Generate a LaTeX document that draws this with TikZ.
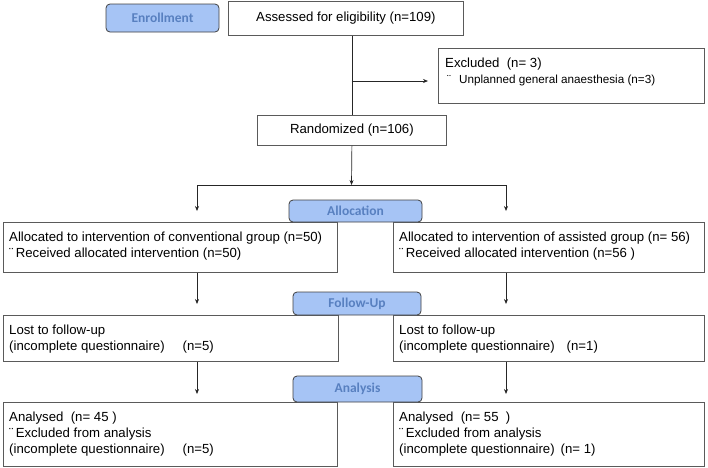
\documentclass[tikz,border=0pt]{standalone}
\usepackage{fontspec}
\setmainfont{Liberation Sans}
\newfontfamily\lblfont{Carlito}
\usetikzlibrary{arrows.meta,calc}
\definecolor{phasefill}{RGB}{166,196,245}
\definecolor{phasetext}{RGB}{88,128,192}
\definecolor{boxline}{RGB}{90,90,90}
\begin{document}
\begin{tikzpicture}[x=1pt,y=-1pt,
  box/.style={draw=boxline, line width=0.8pt, fill=white, anchor=north west, inner sep=0pt, font=\fontsize{13.2}{16.5}\selectfont},
  phase/.style={draw=black!75, line width=0.8pt, fill=phasefill, rounded corners=4pt, inner sep=0pt, font=\lblfont\bfseries\fontsize{13.5}{15}\selectfont, text=phasetext},
  txt/.style={anchor=north west, align=left, inner sep=0pt, font=\fontsize{13.2}{16.3}\selectfont},
  arr/.style={-{Stealth[length=5pt,width=4pt]}, line width=0.7pt, draw=black!85},
  conn/.style={line width=0.7pt, draw=black!85},
]
\useasboundingbox (0,0) rectangle (708,467);
% boxes
\node[box, minimum width=235, minimum height=34] (ass) at (228,1) {Assessed for eligibility (n=109)};
\node[box, minimum width=266, minimum height=55] (excl) at (438,48) {};
\node[box, minimum width=189, minimum height=30] (rand) at (257,115) {Randomized (n=106)};
\node[box, minimum width=334, minimum height=50] (allocL) at (3,222) {};
\node[box, minimum width=311, minimum height=50] (allocR) at (393,222) {};
\node[box, minimum width=335, minimum height=46] (lostL) at (3,315) {};
\node[box, minimum width=311, minimum height=46] (lostR) at (393,315) {};
\node[box, minimum width=334, minimum height=64] (anaL) at (3,402) {};
\node[box, minimum width=311, minimum height=64] (anaR) at (393,402) {};
% texts
\node[txt] (exclT) at ($(excl.north west)+(7,10)$) {Excluded~ (n= 3)\\[-1pt]{\fontsize{11.7}{14}\selectfont\kern2pt¨\hspace{8pt}Unplanned general anaesthesia (n=3)}};
\node[txt] (allocLT) at ($(allocL.north west)+(6,9.5)$) {Allocated to intervention of conventional group (n=50)\\¨\,Received allocated intervention (n=50)};
\node[txt] (allocRT) at ($(allocR.north west)+(6,9.5)$) {Allocated to intervention of assisted group (n= 56)\\¨\,Received allocated intervention (n=56 )};
\node[txt] (lostLT) at ($(lostL.north west)+(6,9.5)$) {Lost to follow-up\\(incomplete questionnaire)\hspace{18pt}(n=5)};
\node[txt] (lostRT) at ($(lostR.north west)+(6,9.5)$) {Lost to follow-up\\(incomplete questionnaire)\hspace{12pt}(n=1)};
\node[txt] (anaLT) at ($(anaL.north west)+(6,9.5)$) {Analysed~ (n= 45 )\\¨\,Excluded from analysis\\(incomplete questionnaire)\hspace{18pt}(n=5)};
\node[txt] (anaRT) at ($(anaR.north west)+(6,9.5)$) {Analysed~ (n= 55~ )\\¨\,Excluded from analysis\\(incomplete questionnaire)\hspace{6pt}(n= 1)};
% connectors
\coordinate (exy) at (351.5,81);
\coordinate (sp) at (351.5,185);
\coordinate (spl) at (197,185);
\coordinate (spr) at (506,185);
\draw[conn] (rand.north |- ass.south) -- (rand.north);
\draw[arr, shorten >=10pt] (exy) -- (exy -| excl.west);
\draw[arr] (rand.south) -- (sp);
\draw[conn] (spl) -- (spr);
\draw[arr, shorten >=11pt] (spl) -- (spl |- allocL.north);
\draw[arr, shorten >=11pt] (spr) -- (spr |- allocR.north);
\draw[arr, shorten >=11pt] (allocL.south -| spl) -- (lostL.north -| spl);
\draw[arr, shorten >=11pt] (allocR.south -| spr) -- (lostR.north -| spr);
\draw[arr, shorten >=8pt] (lostL.south -| spl) -- (anaL.north -| spl);
\draw[arr, shorten >=8pt] (lostR.south -| spr) -- (anaR.north -| spr);
% phase labels
\node[phase, minimum width=113, minimum height=28] (enr) at (162.5,18) {Enrollment};
\node[phase, minimum width=133, minimum height=22] (alc) at (355.5,211) {Allocation};
\node[phase, minimum width=128, minimum height=23] (fup) at (357,303.5) {Follow-Up};
\node[phase, minimum width=129, minimum height=26] (anl) at (357.5,389) {Analysis};
\end{tikzpicture}
\end{document}
